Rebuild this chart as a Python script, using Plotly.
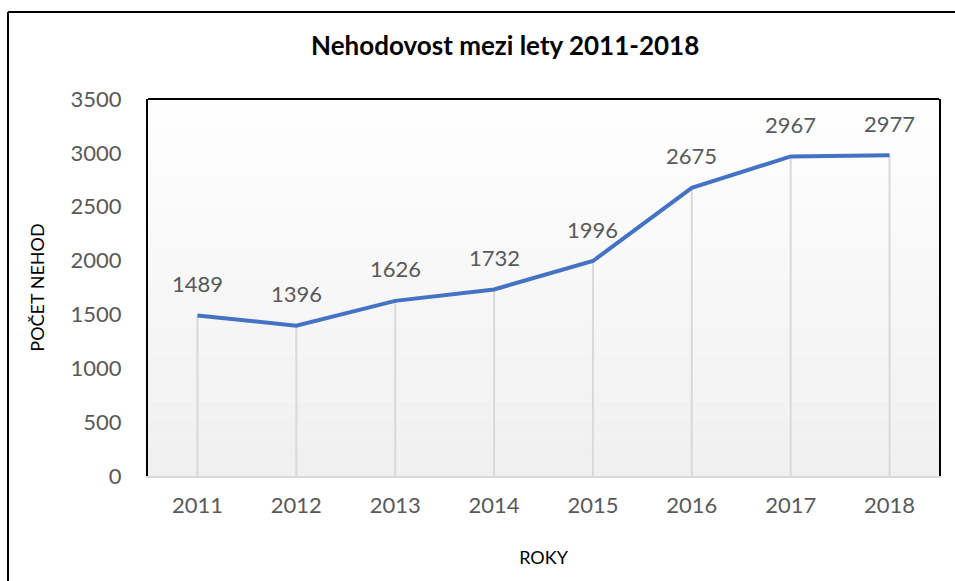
import plotly.graph_objects as go

roky = ['2011', '2012', '2013', '2014', '2015', '2016', '2017', '2018']
nehody = [1489, 1396, 1626, 1732, 1996, 2675, 2967, 2977]
y_ticks = [0, 500, 1000, 1500, 2000, 2500, 3000, 3500]

FONT = 'Lato, Carlito, Calibri, sans-serif'
GREY = '#595959'

fig = go.Figure()

# čára + svislé "drop lines" k ose x
fig.add_trace(go.Scatter(
    x=roky, y=nehody, mode='lines',
    line=dict(color='#4472C4', width=4),
    error_y=dict(type='data', symmetric=False, array=[0] * len(nehody),
                 arrayminus=nehody, color='#d9d9d9', thickness=2, width=0),
    hoverinfo='x+y', showlegend=False,
))

# popisky hodnot nad body
for i, n in enumerate(nehody):
    fig.add_annotation(x=i, y=n, xref='x', yref='y', text=str(n), showarrow=False,
                       yshift=32, font=dict(family=FONT, size=22, color=GREY))

# gradient pozadí plochy grafu (bílá nahoře -> světle šedá dole)
steps = 40
for i in range(steps):
    t = i / (steps - 1)
    c = int(255 - (255 - 240) * (1 - t))
    fig.add_shape(type='rect', xref='x domain', yref='y domain',
                  x0=0, x1=1, y0=i / steps, y1=(i + 1) / steps,
                  fillcolor=f'rgb({c},{c},{c})', line_width=0, layer='below')

# horní okraj plochy grafu
fig.add_shape(type='line', xref='x domain', yref='y domain', x0=0, x1=1, y0=1, y1=1,
              line=dict(color='black', width=2))

# vnější rámeček (levá a horní hrana)
fig.add_shape(type='line', xref='paper', yref='paper', x0=-0.177, x1=-0.177, y0=-0.4, y1=1.231,
              line=dict(color='black', width=2))
fig.add_shape(type='line', xref='paper', yref='paper', x0=-0.177, x1=1.05, y0=1.231, y1=1.231,
              line=dict(color='black', width=2))

fig.update_layout(
    width=955, height=581,
    margin=dict(l=148, r=16, t=99, b=105),
    paper_bgcolor='white', plot_bgcolor='white',
    font=dict(family=FONT, color=GREY),
    title=dict(text='<b>Nehodovost mezi lety 2011-2018</b>', x=0.529, xanchor='center',
               y=0.921, yanchor='middle', font=dict(family=FONT, size=26, color='black')),
    xaxis=dict(type='category', range=[-0.5, 7.5], showgrid=False, zeroline=False,
               showline=True, linecolor='#d9d9d9', linewidth=2, ticks='',
               tickfont=dict(size=22, color=GREY), ticklabelstandoff=9,
               title=dict(text='ROKY', font=dict(size=18, color='black'), standoff=34)),
    yaxis=dict(range=[0, 3500], tickvals=y_ticks, showgrid=False, zeroline=False,
               showline=True, linecolor='black', linewidth=2, mirror=True, ticks='',
               tickfont=dict(size=22, color=GREY), ticklabelstandoff=20,
               title=dict(text='POČET NEHOD', font=dict(size=18, color='black'), standoff=21)),
)

fig.write_html('out.html', config={'displayModeBar': False},
               post_script="document.body.style.margin='0';")
